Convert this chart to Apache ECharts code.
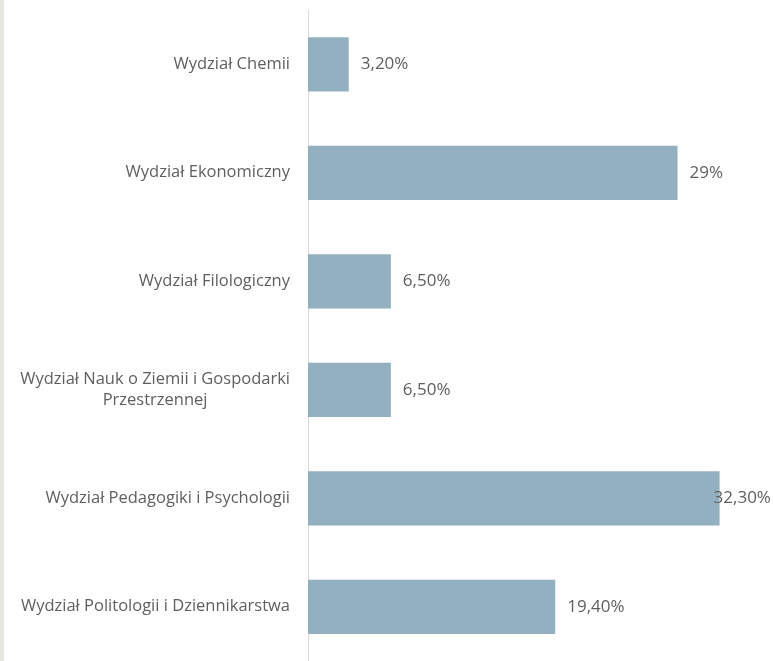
<!DOCTYPE html>
<html lang="pl">
<head>
    <meta charset="UTF-8">
    <title>Wydziały</title>
    <script src="https://cdn.jsdelivr.net/npm/echarts@6/dist/echarts.min.js"></script>
    <style>
        * {
            margin: 0;
            padding: 0;
        }
        html, body {
            width: 773px;
            height: 661px;
            background: #e6e6e1;
            overflow: hidden;
        }
    </style>
</head>
<body>
<div id="main" style="position: absolute;left: 4px;top: 0;width: 769px;height: 661px;background: #fff"></div>
<script>
    var categories = [
        'Wydział Chemii',
        'Wydział Ekonomiczny',
        'Wydział Filologiczny',
        'Wydział Nauk o Ziemii i Gospodarki\nPrzestrzennej',
        'Wydział Pedagogiki i Psychologii',
        'Wydział Politologii i Dziennikarstwa'
    ];
    var values = [3.2, 29, 6.5, 6.5, 32.3, 19.4];

    var textColor = '#5f5f5f';

    function fmt(v) {
        if (v % 1 === 0) return v + '%';
        return v.toFixed(2).replace('.', ',') + '%';
    }

    var maxVal = Math.max.apply(null, values);
    var barData = values.map(function (v) {
        var item = { value: v };
        // największa wartość - etykieta przesunięta w lewo, żeby zmieściła się w obrazku
        if (v === maxVal) {
            item.label = { offset: [-18, 0] };
        }
        return item;
    });

    var myChart = echarts.init(document.getElementById('main'));

    var option = {
        animation: false,
        grid: {
            left: 304,
            top: 10,
            width: 446,
            height: 654
        },
        xAxis: {
            type: 'value',
            min: 0,
            max: 35,
            axisLine: { show: false },
            axisTick: { show: false },
            axisLabel: { show: false },
            splitLine: { show: false }
        },
        yAxis: {
            type: 'category',
            inverse: true,
            data: categories,
            axisLine: { show: true, lineStyle: { color: '#d9d9d9', width: 1 } },
            axisTick: { show: false },
            axisLabel: {
                margin: 18,
                color: textColor,
                fontFamily: 'Open Sans',
                fontSize: 16.5,
                lineHeight: 21,
                formatter: function (v) {
                    return v.split('\n').map(function (s) {
                        return '{c|' + s + '}';
                    }).join('\n');
                },
                rich: {
                    c: {
                        align: 'center',
                        color: textColor,
                        fontFamily: 'Open Sans',
                        fontSize: 16.5,
                        lineHeight: 21
                    }
                }
            }
        },
        series: [{
            type: 'bar',
            data: barData,
            barCategoryGap: '50%',
            itemStyle: { color: '#93b0c1' },
            label: {
                show: true,
                position: 'right',
                distance: 12,
                color: textColor,
                fontFamily: 'Open Sans',
                fontSize: 17,
                formatter: function (p) {
                    return fmt(p.value);
                }
            }
        }]
    };

    myChart.setOption(option);
</script>
</body>
</html>
